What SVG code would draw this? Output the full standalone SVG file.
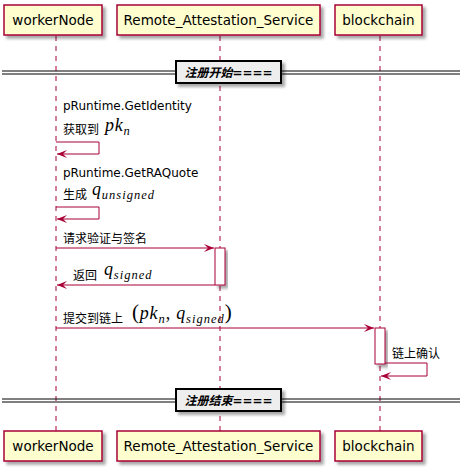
<svg xmlns="http://www.w3.org/2000/svg" width="462" height="474" viewBox="0 0 462 474">
<defs>
<filter id="sh" x="-20%" y="-20%" width="150%" height="160%">
<feGaussianBlur in="SourceAlpha" stdDeviation="1.5"/>
<feOffset dx="3" dy="3" result="o"/>
<feFlood flood-color="#000" flood-opacity="0.35"/>
<feComposite in2="o" operator="in"/>
<feMerge><feMergeNode/><feMergeNode in="SourceGraphic"/></feMerge>
</filter>
<marker id="ah" viewBox="0 0 10 8" refX="10" refY="4" markerWidth="10" markerHeight="8" markerUnits="userSpaceOnUse" orient="auto">
<polygon points="0,0 10,4 0,8 4,4" fill="#A80036"/>
</marker>
</defs>
<style>
.p{fill:#FEFECE;stroke:#A80036;stroke-width:1.5}
.pt{font-family:"DejaVu Sans","Liberation Sans",sans-serif;font-size:13.5px;fill:#000;text-anchor:middle}
.ll{stroke:#A80036;stroke-width:1;stroke-dasharray:5,5}
.m{stroke:#A80036;stroke-width:1;fill:none}
.act{fill:#fff;stroke:#A80036;stroke-width:1}
.t{font-family:"DejaVu Sans","Noto Sans CJK SC",sans-serif;font-size:12px;fill:#000}
.math{font-family:"Liberation Serif","DejaVu Serif",serif;font-style:italic;fill:#000;font-size:18px;letter-spacing:0.8px}
.sub{font-size:12.5px;letter-spacing:1px}
.up{font-style:normal}
.dl{stroke:#000;stroke-width:1}
.db{fill:#EEEEEE;stroke:#000;stroke-width:2}
.dt{font-family:"DejaVu Sans","Noto Sans CJK SC",sans-serif;font-size:12px;font-weight:bold;font-style:italic;fill:#000;text-anchor:middle}
</style>
<g id="lifelines">
<line class="ll" x1="56" y1="36" x2="56" y2="431"/>
<line class="ll" x1="220" y1="36" x2="220" y2="431"/>
<line class="ll" x1="380" y1="36" x2="380" y2="431"/>
</g>
<g id="workerNode">
<rect class="p" x="4" y="5" width="98" height="30" filter="url(#sh)"/>
<text class="pt" x="53" y="25">workerNode</text>
<rect class="p" x="4" y="431" width="98" height="30" filter="url(#sh)"/>
<text class="pt" x="53" y="451">workerNode</text>
</g>
<g id="Remote_Attestation_Service">
<rect class="p" x="117" y="5" width="203" height="30" filter="url(#sh)"/>
<text class="pt" x="218.5" y="25">Remote_Attestation_Service</text>
<rect class="p" x="117" y="431" width="203" height="30" filter="url(#sh)"/>
<text class="pt" x="218.5" y="451">Remote_Attestation_Service</text>
<rect class="act" x="215" y="248" width="10" height="37" filter="url(#sh)"/>
</g>
<g id="blockchain">
<rect class="p" x="335" y="5" width="87" height="30" filter="url(#sh)"/>
<text class="pt" x="378.5" y="25">blockchain</text>
<rect class="p" x="335" y="431" width="87" height="30" filter="url(#sh)"/>
<text class="pt" x="378.5" y="451">blockchain</text>
<rect class="act" x="375" y="328" width="10" height="36" filter="url(#sh)"/>
</g>
<g id="divider-start">
<line class="dl" x1="2" y1="71" x2="460" y2="71"/>
<line class="dl" x1="2" y1="74" x2="460" y2="74"/>
<rect class="db" x="176" y="61" width="105" height="22" filter="url(#sh)"/>
<text class="dt" x="228.5" y="77">注册开始====</text>
</g>
<g id="divider-end">
<line class="dl" x1="2" y1="399" x2="460" y2="399"/>
<line class="dl" x1="2" y1="402" x2="460" y2="402"/>
<rect class="db" x="176" y="389" width="105" height="22" filter="url(#sh)"/>
<text class="dt" x="228.5" y="405">注册结束====</text>
</g>
<g id="connectors">
<path class="m" d="M56,142 H99 V154 H57" marker-end="url(#ah)"/>
<path class="m" d="M56,207 H99 V219 H57" marker-end="url(#ah)"/>
<line class="m" x1="56" y1="248" x2="214" y2="248" marker-end="url(#ah)"/>
<line class="m" x1="215" y1="285" x2="57" y2="285" marker-end="url(#ah)"/>
<line class="m" x1="56" y1="328" x2="374" y2="328" marker-end="url(#ah)"/>
<path class="m" d="M385,363 H427 V376 H381" marker-end="url(#ah)"/>
</g>
<g id="labels">
<text class="t" x="63" y="110">pRuntime.GetIdentity</text>
<text class="t" x="63" y="134">获取到</text>
<text class="math" x="105" y="131">pk<tspan class="sub" dy="4">n</tspan></text>
<text class="t" x="63" y="177">pRuntime.GetRAQuote</text>
<text class="t" x="63" y="199">生成</text>
<text class="math" x="92" y="195">q<tspan class="sub" dy="4">unsigned</tspan></text>
<text class="t" x="63" y="243">请求验证与签名</text>
<text class="t" x="73" y="280">返回</text>
<text class="math" x="104" y="275">q<tspan class="sub" dy="4">signed</tspan></text>
<text class="t" x="63" y="323">提交到链上</text>
<text class="math" x="132" y="319"><tspan class="up" font-size="21">(</tspan>pk<tspan class="sub" dy="4">n</tspan><tspan class="up" dy="-4">, </tspan>q<tspan class="sub" dy="4">signed</tspan><tspan class="up" font-size="21" dy="-4">)</tspan></text>
<text class="t" x="392" y="358">链上确认</text>
</g>
</svg>
